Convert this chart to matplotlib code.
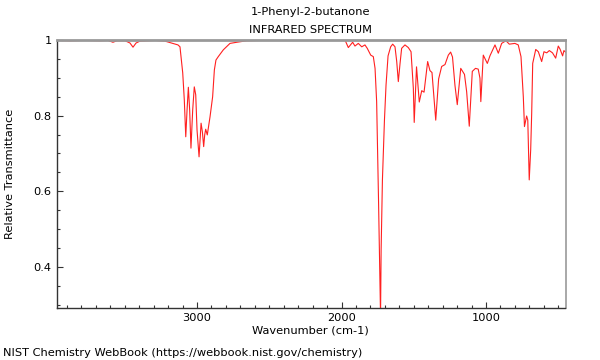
import numpy as np
import matplotlib
matplotlib.use('Agg')
import matplotlib.pyplot as plt
from matplotlib.ticker import MultipleLocator, FuncFormatter

# Spectrum (wavenumber [cm-1], relative transmittance)
wavenumber = [3967, 3879, 3775, 3671, 3616, 3582, 3554, 3498, 3464, 3443,
              3422, 3395, 3291, 3222, 3187, 3152, 3132, 3118, 3099, 3088,
              3078, 3069, 3060, 3051, 3042, 3030, 3019, 3009, 3000, 2986,
              2979, 2972, 2963, 2954, 2947, 2940, 2929, 2910, 2892, 2880,
              2869, 2853, 2818, 2772, 2725, 2656, 2564, 2288, 1976, 1953,
              1923, 1907, 1884, 1860, 1838, 1822, 1798, 1780, 1768, 1757,
              1744, 1737, 1730, 1726, 1717, 1703, 1692, 1678, 1660, 1646,
              1630, 1618, 1607, 1595, 1584, 1561, 1538, 1519, 1503, 1497,
              1481, 1462, 1445, 1429, 1404, 1388, 1374, 1348, 1328, 1307,
              1284, 1261, 1245, 1232, 1215, 1199, 1175, 1149, 1134, 1116,
              1095, 1073, 1054, 1042, 1036, 1019, 991, 973, 938, 915,
              892, 862, 839, 800, 777, 758, 742, 734, 719, 711,
              701, 691, 684, 677, 656, 638, 615, 599, 580, 562,
              540, 518, 500, 488, 470, 461, 450]
transmittance = [0.999, 0.998, 0.999, 0.998, 0.999, 0.994, 0.998, 0.998, 0.992, 0.981,
                 0.992, 0.997, 0.999, 0.997, 0.993, 0.989, 0.987, 0.982, 0.913, 0.841,
                 0.744, 0.815, 0.875, 0.815, 0.714, 0.815, 0.876, 0.855, 0.762, 0.691,
                 0.735, 0.780, 0.757, 0.718, 0.749, 0.764, 0.749, 0.797, 0.850, 0.921,
                 0.947, 0.956, 0.974, 0.991, 0.994, 0.998, 0.999, 1.0, 1.0, 0.980,
                 0.994, 0.984, 0.991, 0.982, 0.987, 0.978, 0.960, 0.956, 0.925, 0.837,
                 0.577, 0.418, 0.27, 0.444, 0.630, 0.788, 0.881, 0.958, 0.982, 0.989,
                 0.982, 0.943, 0.890, 0.938, 0.978, 0.987, 0.980, 0.969, 0.872, 0.782,
                 0.929, 0.836, 0.866, 0.862, 0.943, 0.919, 0.914, 0.788, 0.897, 0.930,
                 0.935, 0.960, 0.968, 0.955, 0.880, 0.829, 0.925, 0.909, 0.863, 0.772,
                 0.917, 0.925, 0.923, 0.899, 0.837, 0.960, 0.938, 0.958, 0.987, 0.965,
                 0.991, 0.998, 0.989, 0.991, 0.987, 0.956, 0.850, 0.771, 0.799, 0.788,
                 0.630, 0.709, 0.806, 0.938, 0.975, 0.969, 0.943, 0.969, 0.966, 0.972,
                 0.966, 0.952, 0.984, 0.976, 0.958, 0.972, 0.968]

x_ticks = [3000, 2000, 1000]
y_ticks = [0.4, 0.6, 0.8, 1.0]

fs = 8.2
plt.rcParams['font.family'] = 'DejaVu Sans'
plt.rcParams['font.size'] = fs

fig = plt.figure(figsize=(6, 3.6), dpi=100)
ax = fig.add_axes([0.0955, 0.1453, 0.847, 0.7436])

ax.plot(wavenumber, transmittance, color='#ff2020', lw=0.8)

ax.set_xlim(3967, 450)
ax.set_ylim(0.292, 1.0)

ax.set_xticks(x_ticks)
ax.xaxis.set_minor_locator(MultipleLocator(100))
ax.set_yticks(y_ticks)
ax.yaxis.set_minor_locator(MultipleLocator(0.05))
ax.yaxis.set_major_formatter(FuncFormatter(lambda v, p: '%g' % v))

ax.tick_params(which='both', direction='in', top=False, right=False,
               color='#333333', labelsize=fs, pad=4)
ax.tick_params(which='major', length=4, width=0.8)
ax.tick_params(which='minor', length=2, width=0.8)

for side in ['left', 'bottom']:
    ax.spines[side].set_color('#333333')
    ax.spines[side].set_linewidth(1)
ax.spines['top'].set_color('#999999')
ax.spines['top'].set_linewidth(2)
ax.spines['right'].set_color('#999999')
ax.spines['right'].set_linewidth(1.2)

# Titles and labels
fig.text(0.518, 0.967, '1-Phenyl-2-butanone', ha='center', va='center', fontsize=fs)
fig.text(0.518, 0.917, 'INFRARED SPECTRUM', ha='center', va='center', fontsize=fs)
fig.text(0.518, 0.081, 'Wavenumber (cm-1)', ha='center', va='center', fontsize=fs)
fig.text(0.017, 0.517, 'Relative Transmittance', ha='center', va='center',
         rotation=90, fontsize=fs)
fig.text(0.005, 0.019, 'NIST Chemistry WebBook (https://webbook.nist.gov/chemistry)',
         ha='left', va='center', fontsize=fs)

fig.savefig('out.png', dpi=100)
